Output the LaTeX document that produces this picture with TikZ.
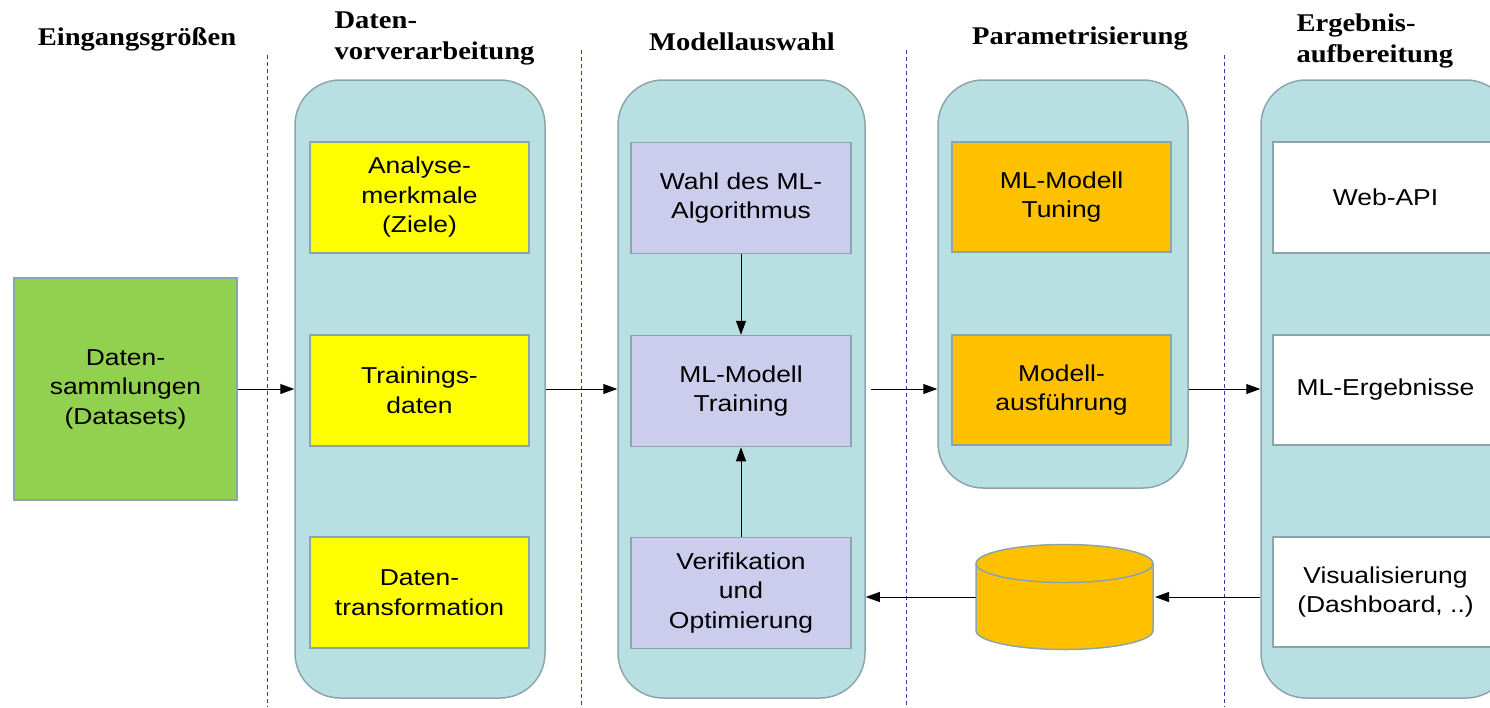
\documentclass[tikz,border=0pt]{standalone}
\usepackage{fontspec}
\setmainfont{Liberation Sans}
\newfontfamily\headfont[FakeStretch=1.12]{Liberation Serif}
\newfontfamily\boxfont[FakeStretch=1.15]{Liberation Sans}
\usetikzlibrary{arrows.meta}
\definecolor{colfill}{HTML}{B8E0E3}
\definecolor{boxline}{HTML}{8CA5AC}
\definecolor{sepline}{HTML}{3A3AA8}
\definecolor{grn}{HTML}{92D050}
\definecolor{ylw}{HTML}{FFFF00}
\definecolor{lav}{HTML}{CCCCEC}
\definecolor{org}{HTML}{FFC000}
\tikzset{
	col/.style={draw=boxline,line width=1.5pt,fill=colfill,rounded corners=45pt,minimum width=250pt},
	box/.style={draw=boxline,line width=1.5pt,minimum width=219pt,minimum height=111pt,align=center,
		font=\boxfont\fontsize{23}{29.5}\selectfont},
	head/.style={font=\headfont\bfseries\fontsize{25.5}{31}\selectfont,align=left},
	sep/.style={draw=sepline,dash pattern=on 4pt off 3pt,line width=1pt},
	arr/.style={-{Triangle[length=14pt,width=10pt]},line width=1pt},
}
\begin{document}
\begin{tikzpicture}[x=1pt,y=-1pt]
	\clip (0,0) rectangle (1490,707);
	% headings
	\node[head] (h0) at (137,39) {Eingangsgrößen};
	\node[head,anchor=west] (h1) at (331,38) {Daten-\\vorverarbeitung};
	\node[head] (h2) at (742,42) {Modellauswahl};
	\node[head] (h3) at (1080,38) {Parametrisierung};
	\node[head,anchor=west] (h4) at (1293,41) {Ergebnis-\\aufbereitung};
	%
	\draw[sep] (267,55) -- (267,707);
	\draw[sep] (581,50) -- (581,707);
	\draw[sep] (906,50) -- (906,707);
	\draw[sep] (1224,55) -- (1224,707);
	% columns
	\node[col,minimum height=618pt] (c1) at (420,389) {};
	\node[col,minimum height=618pt,minimum width=247pt] (c2) at (741.5,389) {};
	\node[col,minimum height=408pt] (c3) at (1063,284) {};
	\node[col,minimum height=618pt] (c4) at (1386,389) {};
	\fill[colfill] (1372,340) -- (1384,334) -- (1384,347) -- cycle;
	%
	\node[box,fill=grn,minimum width=223pt,minimum height=222pt] (dat) at (125.5,389) {Daten-\\sammlungen\\(Datasets)};
	%
	\node[box,fill=ylw] (ana) at (419.5,197.5) {Analyse-\\merkmale\\(Ziele)};
	\node[box,fill=ylw] (trd) at (419.5,390.5) {Trainings-\\daten};
	\node[box,fill=ylw] (trf) at (419.5,592.5) {Daten-\\transformation};
	%
	\node[box,fill=lav,minimum width=220pt] (alg) at (741,198) {Wahl des ML-\\Algorithmus};
	\node[box,fill=lav,minimum width=220pt] (mtr) at (741,391) {ML-Modell\\Training};
	\node[box,fill=lav,minimum width=220pt] (ver) at (741,593) {Verifikation\\und\\Optimierung};
	%
	\node[box,fill=org,minimum height=110pt] (tun) at (1061.5,197) {ML-Modell\\Tuning};
	\node[box,fill=org,minimum height=110pt] (aus) at (1061.5,390) {Modell-\\ausführung};
	%
	\node[box,fill=white,minimum width=225pt] (api) at (1385.5,197.5) {Web-API};
	\node[box,fill=white,minimum width=225pt,minimum height=110pt] (erg) at (1385.5,390) {ML-Ergebnisse};
	\node[box,fill=white,minimum width=225pt,minimum height=110pt] (vis) at (1385.5,592) {Visualisierung\\(Dashboard, ..)};
	% data store
	\node[inner sep=0pt,outer sep=0pt,minimum width=177pt,minimum height=105pt] (db) at (1064.5,597) {};
	\filldraw[draw=boxline,line width=1.5pt,fill=org] (db.north west) ++(0,19) -- ([yshift=19pt]db.south west)
		arc[start angle=180,end angle=0,x radius=88.5,y radius=19] -- ([yshift=-19pt]db.north east)
		arc[start angle=0,end angle=-180,x radius=88.5,y radius=19] -- cycle;
	\draw[boxline,line width=1.5pt] (db.north west) ++(0,19) arc[start angle=180,end angle=0,x radius=88.5,y radius=19];
	% arrows
	\draw[arr] (dat) -- (c1);
	\draw[arr] (c1) -- (c2);
	\draw[arr] (c2.east) ++(5,0) -- (c3.west |- c2.east);
	\draw[arr] (c3.east |- c4.west) -- (c4.west);
	\draw[arr] (alg) -- (mtr);
	\draw[arr] (ver) -- (mtr);
	\draw[arr] (c4.west |- db.east) -- ([xshift=2pt]db.east);
	\draw[arr] (db.west) -- (c2.east |- db.west);
\end{tikzpicture}
\end{document}
